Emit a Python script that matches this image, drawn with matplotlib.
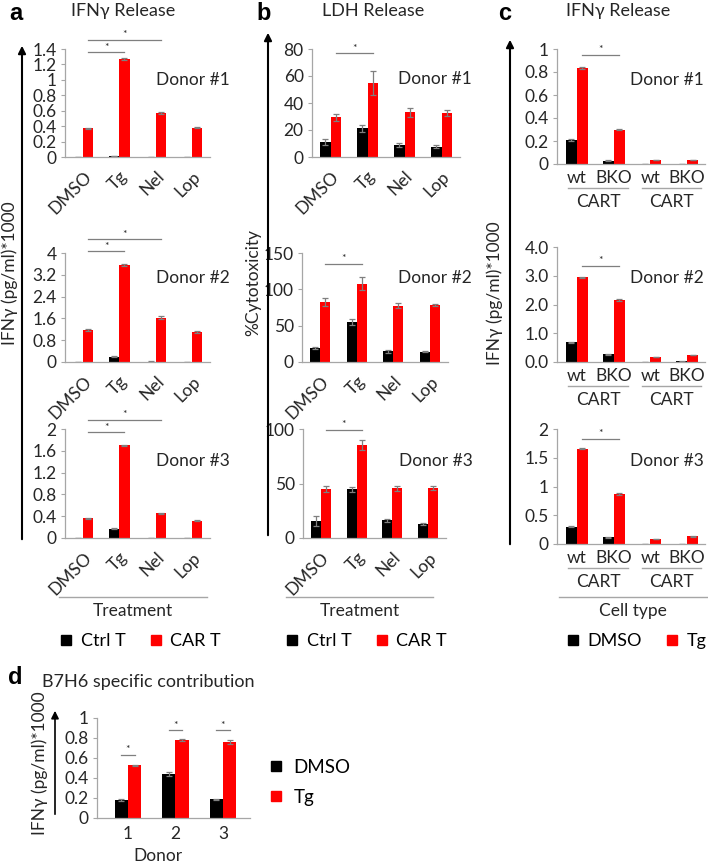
import numpy as np
import matplotlib
matplotlib.use("Agg")
import matplotlib.pyplot as plt
from matplotlib.lines import Line2D
from matplotlib.patches import FancyArrowPatch
from matplotlib.ticker import FuncFormatter

plt.rcParams['font.family'] = ['Lato', 'DejaVu Sans']

# ---------------- data ----------------
treatments = ["DMSO", "Tg", "Nel", "Lop"]
cell_types = ["wt", "BKO", "wt", "BKO"]
donors_d = ["1", "2", "3"]

# panel a: IFNγ release (Ctrl T / CAR T)
a_ctrl_1 = [0.0, 0.012, 0.0, 0.0]
a_car_1 = [0.37, 1.27, 0.57, 0.38]
a_ctrl_err_1 = [0.003, 0.004, 0.003, 0.003]
a_car_err_1 = [0.01, 0.01, 0.012, 0.01]
a_ctrl_2 = [0.0, 0.2, 0.01, 0.0]
a_car_2 = [1.17, 3.55, 1.63, 1.10]
a_ctrl_err_2 = [0.01, 0.02, 0.01, 0.01]
a_car_err_2 = [0.03, 0.04, 0.04, 0.03]
a_ctrl_3 = [0.0, 0.17, 0.0, 0.0]
a_car_3 = [0.36, 1.70, 0.45, 0.32]
a_ctrl_err_3 = [0.005, 0.01, 0.005, 0.005]
a_car_err_3 = [0.015, 0.015, 0.015, 0.01]

# panel b: LDH release (%Cytotoxicity)
b_ctrl_1 = [10.8, 21.2, 8.6, 7.6]
b_car_1 = [29.3, 54.7, 33.0, 32.5]
b_ctrl_err_1 = [2.2, 2.7, 1.5, 1.0]
b_car_err_1 = [2.5, 9.0, 3.0, 2.0]
b_ctrl_2 = [19.3, 55.0, 14.7, 14.2]
b_car_2 = [82.6, 107.8, 77.5, 78.4]
b_ctrl_err_2 = [2.0, 4.5, 2.0, 1.0]
b_car_err_2 = [6.0, 9.0, 3.5, 1.5]
b_ctrl_3 = [15.7, 44.6, 16.3, 12.6]
b_car_3 = [45.0, 85.5, 45.5, 46.0]
b_ctrl_err_3 = [4.5, 2.5, 1.5, 1.0]
b_car_err_3 = [2.5, 4.5, 2.0, 2.0]

# panel c: IFNγ release (DMSO / Tg)
c_dmso_1 = [0.21, 0.03, 0.0, 0.0]
c_tg_1 = [0.835, 0.30, 0.035, 0.035]
c_dmso_err_1 = [0.01, 0.004, 0.002, 0.002]
c_tg_err_1 = [0.012, 0.006, 0.003, 0.003]
c_dmso_2 = [0.69, 0.265, 0.01, 0.02]
c_tg_2 = [2.94, 2.155, 0.17, 0.25]
c_dmso_err_2 = [0.02, 0.01, 0.005, 0.005]
c_tg_err_2 = [0.02, 0.02, 0.01, 0.01]
c_dmso_3 = [0.30, 0.116, 0.0, 0.0]
c_tg_3 = [1.66, 0.87, 0.087, 0.133]
c_dmso_err_3 = [0.01, 0.005, 0.002, 0.002]
c_tg_err_3 = [0.015, 0.01, 0.005, 0.005]

# panel d: B7H6 specific contribution
d_dmso = [0.183, 0.443, 0.187]
d_tg = [0.527, 0.783, 0.760]
d_dmso_err = [0.01, 0.02, 0.005]
d_tg_err = [0.007, 0.012, 0.022]

# tick values
a_ticks = [[0, 0.2, 0.4, 0.6, 0.8, 1.0, 1.2, 1.4],
           [0, 0.8, 1.6, 2.4, 3.2, 4.0],
           [0, 0.4, 0.8, 1.2, 1.6, 2.0]]
b_ticks = [[0, 20, 40, 60, 80], [0, 50, 100, 150], [0, 50, 100]]
c_ticks = [[0, 0.2, 0.4, 0.6, 0.8, 1.0], [0, 1, 2, 3, 4], [0, 0.5, 1, 1.5, 2]]
d_ticks = [0, 0.2, 0.4, 0.6, 0.8, 1.0]

# ---------------- layout helpers ----------------
W, H = 708, 865
fig = plt.figure(figsize=(W / 100, H / 100), dpi=100)
FS = 12.5

def fx(x):
    return x / W

def fy(y):
    return 1 - y / H

def add_ax(l, t, r, b):
    return fig.add_axes([l / W, 1 - b / H, (r - l) / W, (b - t) / H])

GRAY = '#a6a6a6'
ERRC = '#7f7f7f'
TXT = '#262626'
RED = '#ff0000'

def style(ax, ticks, fmt=None):
    for s in ['top', 'right']:
        ax.spines[s].set_visible(False)
    for s in ['left', 'bottom']:
        ax.spines[s].set_color(GRAY)
        ax.spines[s].set_linewidth(0.9)
    ax.set_ylim(ticks[0], ticks[-1])
    ax.set_yticks(ticks)
    if fmt is None:
        ax.yaxis.set_major_formatter(FuncFormatter(lambda v, p: f"{v:g}"))
    else:
        ax.yaxis.set_major_formatter(FuncFormatter(lambda v, p: fmt % v))
    ax.tick_params(axis='y', length=3, color=GRAY, labelsize=FS, pad=3, labelcolor=TXT)
    ax.tick_params(axis='x', length=0, labelsize=FS, labelcolor=TXT)
    ax.set_facecolor('none')

def bars(ax, left_vals, right_vals, left_err, right_err, lc, rc, w=0.28):
    x = np.arange(len(left_vals))
    ek = dict(ecolor=ERRC, capsize=2.5, elinewidth=0.9, capthick=0.9)
    ax.bar(x - w / 2, left_vals, w, color=lc, yerr=left_err, error_kw=ek, zorder=2)
    ax.bar(x + w / 2, right_vals, w, color=rc, yerr=right_err, error_kw=ek, zorder=2)
    return x

def sig(ax, x1, x2, y, dy):
    ax.plot([x1, x2], [y, y], color=ERRC, lw=0.9, clip_on=False)
    ax.text((x1 + x2) / 2, y + dy, '*', ha='center', va='bottom', fontsize=7.5,
            color=TXT, clip_on=False)

def donor(ax, s, xf, yf):
    ax.text(xf, yf, s, transform=ax.transAxes, fontsize=FS, color=TXT, va='center', ha='left')

def rot_labels(ax, labels):
    ax.set_xticks(np.arange(len(labels)))
    ax.set_xticklabels(labels, rotation=45, ha='right', rotation_mode='anchor')
    ax.tick_params(axis='x', pad=8)

# ---------------- panel a ----------------
a_axes = [add_ax(65, 49, 210, 157), add_ax(65, 253, 210, 362), add_ax(65, 429, 210, 538)]
a_ctrl = [a_ctrl_1, a_ctrl_2, a_ctrl_3]
a_car = [a_car_1, a_car_2, a_car_3]
a_ce = [a_ctrl_err_1, a_ctrl_err_2, a_ctrl_err_3]
a_re = [a_car_err_1, a_car_err_2, a_car_err_3]
a_sig = [(1.36, 1.52), (4.07, 4.51), (1.94, 2.17)]
a_donor_y = [0.71, 0.77, 0.71]
for i, ax in enumerate(a_axes):
    style(ax, a_ticks[i])
    bars(ax, a_ctrl[i], a_car[i], a_ce[i], a_re[i], 'k', RED)
    ax.set_xlim(-0.5, 3.5)
    rot_labels(ax, treatments)
    top = a_ticks[i][-1]
    sig(ax, 0.14, 1.14, a_sig[i][0], top * 0.005)
    sig(ax, 0.14, 2.14, a_sig[i][1], top * 0.005)
    donor(ax, f"Donor #{i+1}", 0.63, a_donor_y[i])

# ---------------- panel b ----------------
b_axes = [add_ax(312, 49, 460, 157), add_ax(302, 253, 448, 362), add_ax(303, 429, 446, 538)]
b_ctrl = [b_ctrl_1, b_ctrl_2, b_ctrl_3]
b_car = [b_car_1, b_car_2, b_car_3]
b_ce = [b_ctrl_err_1, b_ctrl_err_2, b_ctrl_err_3]
b_re = [b_car_err_1, b_car_err_2, b_car_err_3]
b_sig = [76.8, 135, 99.4]
b_donor = [(0.58, 0.72), (0.66, 0.77), (0.67, 0.71)]
for i, ax in enumerate(b_axes):
    style(ax, b_ticks[i])
    bars(ax, b_ctrl[i], b_car[i], b_ce[i], b_re[i], 'k', RED)
    ax.set_xlim(-0.5, 3.5)
    rot_labels(ax, treatments)
    sig(ax, 0.14, 1.14, b_sig[i], b_ticks[i][-1] * 0.005)
    donor(ax, f"Donor #{i+1}", *b_donor[i])

# ---------------- panel c ----------------
c_boxes = [(557, 49, 705, 164), (557, 247, 705, 362), (557, 429, 705, 544)]
c_axes = [add_ax(*bx) for bx in c_boxes]
c_dm = [c_dmso_1, c_dmso_2, c_dmso_3]
c_tg = [c_tg_1, c_tg_2, c_tg_3]
c_de = [c_dmso_err_1, c_dmso_err_2, c_dmso_err_3]
c_te = [c_tg_err_1, c_tg_err_2, c_tg_err_3]
c_sig = [0.95, 3.34, 1.83]
c_fmt = [None, "%.1f", None]
c_donor_y = [0.73, 0.73, 0.72]
for i, ax in enumerate(c_axes):
    style(ax, c_ticks[i], c_fmt[i])
    bars(ax, c_dm[i], c_tg[i], c_de[i], c_te[i], 'k', RED, w=0.3)
    ax.set_xlim(-0.545, 3.49)
    ax.set_xticks(np.arange(len(cell_types)))
    ax.set_xticklabels(cell_types)
    ax.tick_params(axis='x', pad=4)
    sig(ax, 0.15, 1.15, c_sig[i], c_ticks[i][-1] * 0.005)
    donor(ax, f"Donor #{i+1}", 0.49, c_donor_y[i])
    yb = c_boxes[i][3]
    for (x1, x2) in [(568, 628), (642, 701)]:
        fig.add_artist(Line2D([fx(x1), fx(x2)], [fy(yb + 24)] * 2, color=GRAY, lw=1.0,
                              transform=fig.transFigure))
        fig.text(fx((x1 + x2) / 2), fy(yb + 38), "CART", ha='center', va='center',
                 fontsize=FS, color=TXT)

# ---------------- panel d ----------------
ax_d = add_ax(97, 718, 250, 818)
style(ax_d, d_ticks)
bars(ax_d, d_dmso, d_tg, d_dmso_err, d_tg_err, 'k', RED)
ax_d.set_xlim(-0.65, 2.57)
ax_d.set_xticks(np.arange(len(donors_d)))
ax_d.set_xticklabels(donors_d)
ax_d.tick_params(axis='x', pad=6)
for i, yv in enumerate([0.63, 0.877, 0.877]):
    sig(ax_d, i - 0.14, i + 0.14, yv, 0.005)
fig.text(fx(158), fy(856), "Donor", ha='center', va='center', fontsize=FS, color=TXT)
ax_d.legend(handles=[Line2D([], [], marker='s', color='k', ls='none', markersize=7),
                     Line2D([], [], marker='s', color=RED, ls='none', markersize=7)],
            labels=["DMSO", "Tg"], loc='upper left', bbox_to_anchor=(fx(252), fy(742)),
            bbox_transform=fig.transFigure, frameon=False, fontsize=13.5,
            handletextpad=0.5, labelspacing=0.7, handlelength=0.8)

# ---------------- figure-level decorations ----------------
def big_arrow(x, y0, y1, lw=1.5):
    fig.add_artist(FancyArrowPatch((fx(x), fy(y0)), (fx(x), fy(y1)), transform=fig.transFigure,
                                   arrowstyle='-|>', mutation_scale=11, lw=lw, color='k'))

big_arrow(22, 542, 43)
big_arrow(268, 538, 30)
big_arrow(510, 547, 37)
big_arrow(55, 817, 708, lw=1.2)

ylab = "IFNγ (pg/ml)*1000"
fig.text(fx(10), fy(273), ylab, rotation=90, ha='center', va='center', fontsize=FS, color=TXT)
fig.text(fx(253), fy(283), "%Cytotoxicity", rotation=90, ha='center', va='center', fontsize=FS, color=TXT)
fig.text(fx(495), fy(293), ylab, rotation=90, ha='center', va='center', fontsize=FS, color=TXT)
fig.text(fx(40), fy(763), ylab, rotation=90, ha='center', va='center', fontsize=FS, color=TXT)

# titles and panel letters
for letter, lx, tx, title in [("a", 16, 123, "IFNγ Release"), ("b", 264, 373, "LDH Release"),
                              ("c", 505, 618, "IFNγ Release")]:
    fig.text(fx(lx), fy(13), letter, ha='center', va='center', fontsize=17,
             fontweight='bold', family='Liberation Sans')
    fig.text(fx(tx), fy(11), title, ha='center', va='center', fontsize=13, color=TXT)
fig.text(fx(15), fy(677), "d", ha='center', va='center', fontsize=17, fontweight='bold',
         family='Liberation Sans')
fig.text(fx(42), fy(682), "B7H6 specific contribution", ha='left', va='center', fontsize=13, color=TXT)

# bottom group lines and axis titles
for (x1, x2, lab) in [(59, 207, "Treatment"), (286, 433, "Treatment"), (559, 707, "Cell type")]:
    fig.add_artist(Line2D([fx(x1), fx(x2)], [fy(597)] * 2, color=GRAY, lw=1.0,
                          transform=fig.transFigure))
    fig.text(fx((x1 + x2) / 2), fy(611), lab, ha='center', va='center', fontsize=FS, color=TXT)

# legends for a, b, c
def sq(c):
    return Line2D([], [], marker='s', color=c, ls='none', markersize=7)

for cx, labs in [(140, ["Ctrl T", "CAR T"]), (366, ["Ctrl T", "CAR T"]), (636, ["DMSO", "Tg"])]:
    fig.legend(handles=[sq('k'), sq(RED)], labels=labs, loc='center',
               bbox_to_anchor=(fx(cx), fy(641)), ncol=2, frameon=False, fontsize=13,
               handletextpad=0.4, columnspacing=1.3, handlelength=0.8)

fig.savefig("out.png", dpi=100)
